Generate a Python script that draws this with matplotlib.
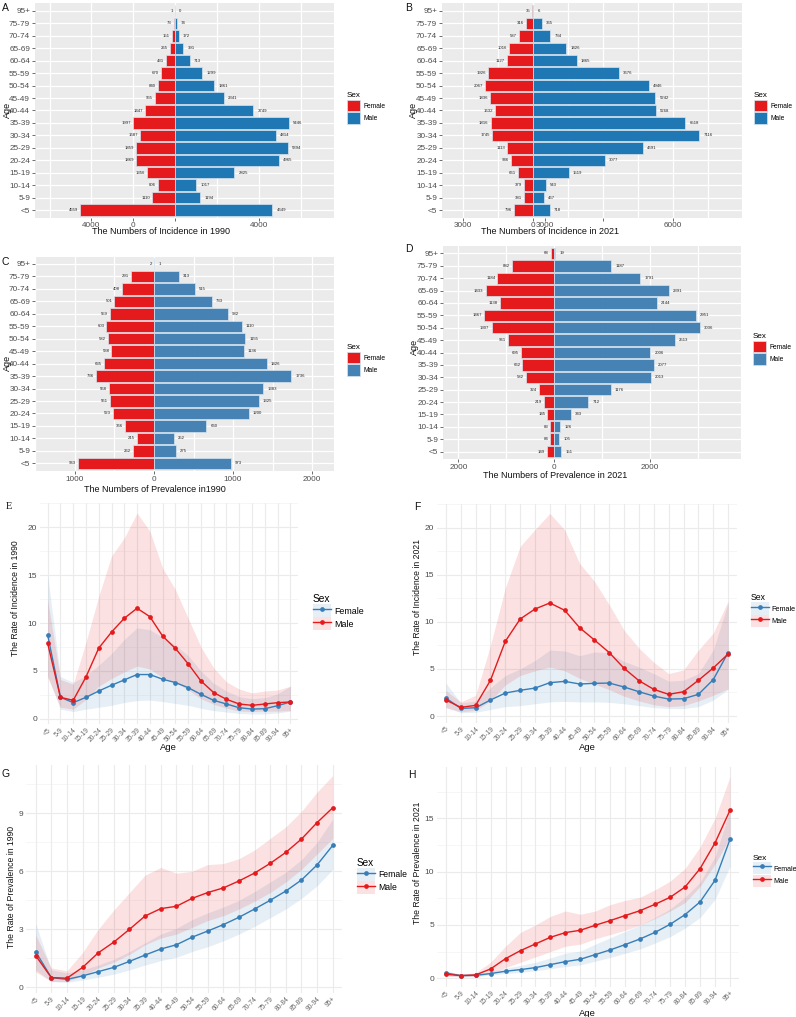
import numpy as np
import matplotlib
matplotlib.use('Agg')
import matplotlib.pyplot as plt
from matplotlib.patches import Patch
from matplotlib.lines import Line2D

plt.rcParams['font.family'] = ['Liberation Sans', 'DejaVu Sans']

W, H = 796, 1017
RED = '#E41A1C'
BLUE_AB = '#1F78B4'
BLUE_CD = '#4682B4'
BLUE_LINE = '#377EB8'

# ---- pyramid data (counts) ----
pyr_ages = ['<5', '5-9', '10-14', '15-19', '20-24', '25-29', '30-34', '35-39',
            '40-44', '45-49', '50-54', '55-59', '60-64', '65-69', '70-74', '75-79', '95+']

inc1990_female = [4559, 1110, 806, 1356, 1869, 1859, 1687, 1997, 1447, 955, 840, 670, 431, 265, 151, 73, 1]
inc1990_male = [4649, 1194, 1017, 2825, 4965, 5394, 4814, 5446, 3749, 2341, 1861, 1299, 713, 391, 172, 74, 0]

inc2021_female = [796, 381, 379, 661, 946, 1113, 1745, 1816, 1632, 1836, 2067, 1926, 1127, 1016, 587, 316, 35]
inc2021_male = [718, 467, 543, 1519, 3077, 4691, 7116, 6518, 5268, 5242, 4946, 3676, 1865, 1426, 734, 365, 6]

prev1990_female = [963, 262, 215, 366, 523, 561, 568, 736, 635, 538, 582, 603, 559, 501, 408, 291, 2]
prev1990_male = [973, 275, 252, 660, 1200, 1325, 1383, 1736, 1426, 1136, 1155, 1110, 932, 733, 515, 313, 1]

prev2021_female = [149, 84, 83, 145, 219, 324, 582, 662, 695, 961, 1307, 1467, 1138, 1433, 1184, 882, 68]
prev2021_male = [151, 105, 126, 343, 712, 1176, 2013, 2077, 2006, 2513, 3036, 2951, 2144, 2391, 1791, 1187, 19]

# ---- rate data ----
rate_ages = ['<5', '5-9', '10-14', '15-19', '20-24', '25-29', '30-34', '35-39', '40-44', '45-49',
             '50-54', '55-59', '60-64', '65-69', '70-74', '75-79', '80-84', '85-89', '90-94', '95+']

inc90_m = [7.87, 2.24, 1.92, 4.37, 7.38, 9.06, 10.5, 11.55, 10.67, 8.64, 7.35, 5.74, 3.95, 2.73, 2.03, 1.54, 1.40, 1.54, 1.68, 1.75]
inc90_m_hi = [12.4, 4.1, 3.6, 8.0, 12.8, 17.0, 18.9, 21.5, 19.6, 15.75, 13.5, 10.5, 7.5, 5.3, 3.85, 3.1, 2.7, 2.9, 3.0, 3.4]
inc90_m_lo = [4.3, 1.2, 1.0, 2.0, 3.4, 4.2, 4.9, 5.5, 5.2, 4.3, 3.8, 3.0, 2.1, 1.5, 1.1, 0.8, 0.75, 0.8, 0.8, 0.85]
inc90_f = [8.75, 2.24, 1.68, 2.24, 2.9, 3.5, 4.06, 4.62, 4.62, 4.13, 3.78, 3.25, 2.55, 1.92, 1.54, 1.15, 1.01, 1.05, 1.36, 1.75]
inc90_f_hi = [15.0, 4.4, 3.8, 4.5, 5.6, 6.8, 8.3, 9.5, 9.3, 8.5, 7.7, 6.6, 5.0, 3.7, 2.9, 2.3, 2.1, 2.2, 2.6, 3.4]
inc90_f_lo = [4.5, 1.0, 0.75, 1.0, 1.2, 1.4, 1.7, 1.9, 1.95, 1.8, 1.6, 1.4, 1.1, 0.85, 0.7, 0.55, 0.5, 0.5, 0.6, 0.8]

inc21_m = [1.7, 0.92, 1.13, 3.79, 7.93, 10.3, 11.36, 12.0, 11.22, 9.38, 8.07, 6.73, 5.06, 3.75, 2.83, 2.3, 2.58, 3.79, 5.1, 6.58]
inc21_m_hi = [2.7, 1.5, 2.2, 7.5, 13.6, 18.0, 19.8, 21.5, 19.75, 16.2, 14.3, 11.8, 9.1, 7.2, 5.7, 4.5, 4.9, 7.0, 8.8, 12.2]
inc21_m_lo = [0.9, 0.45, 0.6, 1.6, 3.3, 4.3, 4.8, 5.2, 4.8, 4.0, 3.4, 2.8, 2.1, 1.6, 1.2, 1.0, 1.1, 1.6, 2.2, 2.9]
inc21_f = [1.91, 0.81, 0.88, 1.70, 2.44, 2.73, 2.97, 3.54, 3.68, 3.40, 3.47, 3.5, 3.08, 2.58, 2.12, 1.8, 1.84, 2.3, 3.86, 6.73]
inc21_f_hi = [3.5, 1.4, 1.6, 3.0, 4.3, 5.0, 5.9, 7.0, 6.9, 6.4, 6.8, 6.7, 5.8, 5.2, 4.5, 3.7, 3.8, 4.5, 7.0, 12.0]
inc21_f_lo = [0.9, 0.35, 0.4, 0.7, 1.0, 1.1, 1.3, 1.5, 1.55, 1.5, 1.5, 1.45, 1.3, 1.1, 0.9, 0.8, 0.8, 1.0, 1.7, 2.8]

prev90_m = [1.64, 0.5, 0.47, 1.03, 1.78, 2.34, 3.0, 3.69, 4.07, 4.19, 4.6, 4.9, 5.14, 5.5, 5.91, 6.41, 6.98, 7.67, 8.52, 9.29]
prev90_m_hi = [2.7, 1.0, 0.85, 1.8, 3.0, 4.0, 4.9, 5.8, 6.2, 5.9, 6.0, 6.35, 6.4, 6.65, 7.1, 7.7, 8.3, 9.1, 10.1, 10.95]
prev90_m_lo = [0.8, 0.3, 0.3, 0.6, 1.0, 1.3, 1.7, 2.2, 2.55, 2.75, 3.1, 3.45, 3.7, 4.05, 4.45, 4.9, 5.45, 6.1, 6.9, 7.7]
prev90_f = [1.84, 0.5, 0.41, 0.59, 0.81, 1.03, 1.34, 1.67, 1.98, 2.2, 2.59, 2.91, 3.24, 3.62, 4.05, 4.5, 4.98, 5.55, 6.33, 7.34]
prev90_f_hi = [3.3, 0.9, 0.75, 0.9, 1.15, 1.45, 1.85, 2.3, 2.75, 3.05, 3.5, 3.85, 4.15, 4.5, 4.95, 5.45, 5.95, 6.6, 7.5, 8.7]
prev90_f_lo = [0.9, 0.3, 0.25, 0.38, 0.52, 0.68, 0.9, 1.15, 1.38, 1.55, 1.85, 2.1, 2.4, 2.75, 3.15, 3.6, 4.05, 4.6, 5.25, 6.1]

prev21_m = [0.375, 0.25, 0.31, 0.875, 1.84, 2.59, 3.22, 3.84, 4.28, 4.5, 4.97, 5.41, 5.88, 6.34, 6.94, 7.59, 8.56, 10.28, 12.69, 15.75]
prev21_m_hi = [0.6, 0.4, 0.5, 1.5, 3.0, 4.3, 5.0, 5.8, 6.3, 6.0, 6.3, 6.9, 7.3, 7.6, 8.3, 9.1, 10.3, 12.3, 15.0, 18.9]
prev21_m_lo = [0.2, 0.12, 0.15, 0.45, 1.0, 1.5, 2.0, 2.5, 3.0, 3.2, 3.7, 4.1, 4.5, 5.0, 5.6, 6.3, 7.1, 8.6, 10.7, 13.2]
prev21_f = [0.5, 0.25, 0.28, 0.44, 0.66, 0.81, 1.0, 1.28, 1.56, 1.78, 2.22, 2.66, 3.16, 3.69, 4.31, 5.06, 5.97, 7.16, 9.19, 13.03]
prev21_f_hi = [0.7, 0.35, 0.4, 0.6, 0.95, 1.2, 1.5, 1.9, 2.35, 2.55, 3.2, 3.8, 4.4, 5.0, 5.7, 6.5, 7.6, 9.0, 11.4, 15.8]
prev21_f_lo = [0.3, 0.15, 0.18, 0.3, 0.45, 0.55, 0.7, 0.9, 1.1, 1.25, 1.6, 1.95, 2.35, 2.75, 3.3, 3.9, 4.7, 5.7, 7.4, 10.5]

fig = plt.figure(figsize=(W / 100, H / 100), dpi=100)


def add_ax(left, top, right, bottom):
    return fig.add_axes([left / W, 1 - bottom / H, (right - left) / W, (bottom - top) / H])


def ftext(x, y, s, **kw):
    fig.text(x / W, 1 - y / H, s, **kw)


def pyramid(box, female, male, mcolor, xlim, ticks, ticklabels, gridx, title, title_xy,
            ylab_xy, tag, tag_xy, leg_xy):
    ax = add_ax(*box)
    y = np.arange(len(pyr_ages))
    ax.set_facecolor('#EBEBEB')
    for g in gridx:
        ax.axvline(g, color='white', lw=0.9, zorder=0)
    for yy in y:
        ax.axhline(yy, color='white', lw=0.9, zorder=0)
    ax.barh(y, -np.array(female), height=0.92, color=RED, edgecolor='#d6e4f0', lw=0.5, zorder=2)
    ax.barh(y, male, height=0.92, color=mcolor, edgecolor='#d6e4f0', lw=0.5, zorder=2)
    for yy, v in zip(y, female):
        ax.annotate(str(v), (-v, yy), xytext=(-1.5, 0), textcoords='offset points',
                    ha='right', va='center', fontsize=3.1, color='#222222', zorder=3)
    for yy, v in zip(y, male):
        ax.annotate(str(v), (v, yy), xytext=(3, 0), textcoords='offset points',
                    ha='left', va='center', fontsize=3.1, color='#222222', zorder=3)
    ax.set_xlim(*xlim)
    ax.set_ylim(-0.6, len(pyr_ages) - 0.4)
    ax.set_yticks(y)
    ax.set_yticklabels(pyr_ages)
    ax.set_xticks(ticks)
    ax.set_xticklabels(ticklabels)
    for s in ax.spines.values():
        s.set_visible(False)
    ax.tick_params(length=2, width=0.5, color='#333333', labelsize=5.9, labelcolor='#4D4D4D', pad=1.5)
    ftext(*title_xy, title, fontsize=6.5, ha='center', va='center', color='#111111')
    ftext(*ylab_xy, 'Age', fontsize=6.5, ha='center', va='center', rotation=90, color='#111111')
    ftext(*tag_xy, tag, fontsize=7.5, ha='left', va='center', color='#111111')
    handles = [Patch(facecolor=RED, edgecolor='#d6e4f0', lw=0.5),
               Patch(facecolor=mcolor, edgecolor='#d6e4f0', lw=0.5)]
    ax.legend(handles, ['Female', 'Male'], title='Sex', loc='upper left',
              bbox_to_anchor=(leg_xy[0] / W, 1 - leg_xy[1] / H), bbox_transform=fig.transFigure,
              frameon=False, fontsize=4.8, title_fontsize=5.8, handlelength=1.95, handleheight=2.3,
              handletextpad=0.55, labelspacing=0.1, borderpad=0, borderaxespad=0, alignment='left')
    return ax


def rate_panel(box, f, f_lo, f_hi, m, m_lo, m_hi, yticks, ylabel, ylab_xy, age_xy, tag, tag_xy,
               tag_family, leg_xy, leg_fs):
    ax = add_ax(*box)
    x = np.arange(len(rate_ages))
    allv = np.concatenate([f_lo, f_hi, m_lo, m_hi, f, m])
    lo, hi = allv.min(), allv.max()
    pad = 0.05 * (hi - lo)
    ax.set_ylim(lo - pad, hi + pad)
    ax.set_xlim(-0.6, len(rate_ages) - 0.4)
    minors = [(a + b) / 2 for a, b in zip(yticks[:-1], yticks[1:])]
    minors.append(yticks[-1] + (yticks[1] - yticks[0]) / 2)
    for g in minors:
        ax.axhline(g, color='#F2F2F2', lw=0.45, zorder=0)
    for g in yticks:
        ax.axhline(g, color='#EBEBEB', lw=0.8, zorder=0)
    for xx in x:
        ax.axvline(xx, color='#EBEBEB', lw=0.8, zorder=0)
    ax.fill_between(x, f_lo, f_hi, color=BLUE_LINE, alpha=0.12, lw=0, zorder=1)
    ax.fill_between(x, m_lo, m_hi, color=RED, alpha=0.13, lw=0, zorder=1)
    ax.plot(x, f, color=BLUE_LINE, lw=1.0, marker='o', ms=2.4, zorder=3)
    ax.plot(x, m, color=RED, lw=1.0, marker='o', ms=2.4, zorder=3)
    ax.set_yticks(yticks)
    ax.set_xticks(x)
    ax.set_xticklabels(rate_ages, rotation=45, ha='right', rotation_mode='anchor')
    for s in ax.spines.values():
        s.set_visible(False)
    ax.tick_params(axis='y', length=0, labelsize=6.0, labelcolor='#4D4D4D', pad=2)
    ax.tick_params(axis='x', length=0, labelsize=4.8, labelcolor='#666666', pad=2)
    ftext(*ylab_xy, ylabel, fontsize=6.2, ha='center', va='center', rotation=90, color='#111111')
    if age_xy is not None:
        ftext(*age_xy, 'Age', fontsize=6.8, ha='center', va='center', color='#111111')
    ftext(*tag_xy, tag, fontsize=7.5, ha='left', va='center', color='#111111', family=tag_family)
    hf = (Patch(facecolor=BLUE_LINE, alpha=0.12, lw=0), Line2D([], [], color=BLUE_LINE, lw=1.0, marker='o', ms=2.4))
    hm = (Patch(facecolor=RED, alpha=0.13, lw=0), Line2D([], [], color=RED, lw=1.0, marker='o', ms=2.4))
    key_pt = 11.5  # key box size in points
    ax.legend([hf, hm], ['Female', 'Male'], title='Sex', loc='upper left',
              bbox_to_anchor=(leg_xy[0] / W, 1 - leg_xy[1] / H), bbox_transform=fig.transFigure,
              frameon=False, fontsize=leg_fs, title_fontsize=leg_fs + 1.0,
              handlelength=key_pt * 1.1 / leg_fs, handleheight=key_pt / leg_fs,
              handletextpad=0.45, labelspacing=0.05, borderpad=0, borderaxespad=0, alignment='left')
    return ax


# A
pyramid((35, 3.5, 334, 217.5), inc1990_female, inc1990_male, BLUE_AB, (-6700, 7600),
        [-4000, -2000, 0, 4000], ['4000', '0', '', '4000'], range(-6000, 7001, 2000),
        'The Numbers of Incidence in 1990', (161, 232), (7, 110), 'A', (2, 8), (347, 92))
# B
pyramid((442, 3.5, 742, 217.5), inc2021_female, inc2021_male, BLUE_AB, (-3900, 8950),
        [-3000, 0, 520, 3000, 6000], ['3000', '0', '3000', '', '6000'], range(-3000, 8001, 1500),
        'The Numbers of Incidence in 2021', (550, 232), (413, 110), 'B', (405, 8), (754, 92))
# C
pyramid((35, 256.5, 334, 470.8), prev1990_female, prev1990_male, BLUE_CD, (-1506, 2278),
        [-1000, 0, 1000, 2000], ['1000', '0', '1000', '2000'], range(-1500, 2001, 500),
        'The Numbers of Prevalence in1990', (155, 490), (7, 363), 'C', (2, 262), (347, 344))
# D
pyramid((443, 246, 741, 459), prev2021_female, prev2021_male, BLUE_CD, (-2320, 3896),
        [-2000, 0, 2000], ['2000', '0', '2000'], range(-2000, 3001, 1000),
        'The Numbers of Prevalence in 2021', (555, 476), (414, 347), 'D', (405, 249), (753, 333))

# E
rate_panel((40, 503, 298, 724), inc90_f, inc90_f_lo, inc90_f_hi, inc90_m, inc90_m_lo, inc90_m_hi,
           [0, 5, 10, 15, 20], 'The Rate of Incidence in 1990', (16, 598), (168, 748),
           'E', (6, 506), 'Liberation Serif', (313, 594), 6.4)
# F
rate_panel((437, 503.5, 737, 722.7), inc21_f, inc21_f_lo, inc21_f_hi, inc21_m, inc21_m_lo, inc21_m_hi,
           [0, 5, 10, 15, 20], 'The Rate of Incidence in 2021', (417, 597), (587, 748),
           'F', (414, 507), 'Liberation Sans', (751, 593), 5.2)
# G
rate_panel((26.3, 765.3, 342.1, 992.8), prev90_f, prev90_f_lo, prev90_f_hi, prev90_m, prev90_m_lo, prev90_m_hi,
           [0, 3, 6, 9], 'The Rate of Prevalence in 1990', (12, 887), None,
           'G', (2, 774), 'Liberation Sans', (357, 858), 6.2)
# H
rate_panel((436.7, 766.6, 739, 987), prev21_f, prev21_f_lo, prev21_f_hi, prev21_m, prev21_m_lo, prev21_m_hi,
           [0, 5, 10, 15], 'The Rate of Prevalence in 2021', (417, 863), (587, 1013),
           'H', (408, 775), 'Liberation Sans', (753, 855), 5.0)

fig.savefig('out.png', dpi=100)
